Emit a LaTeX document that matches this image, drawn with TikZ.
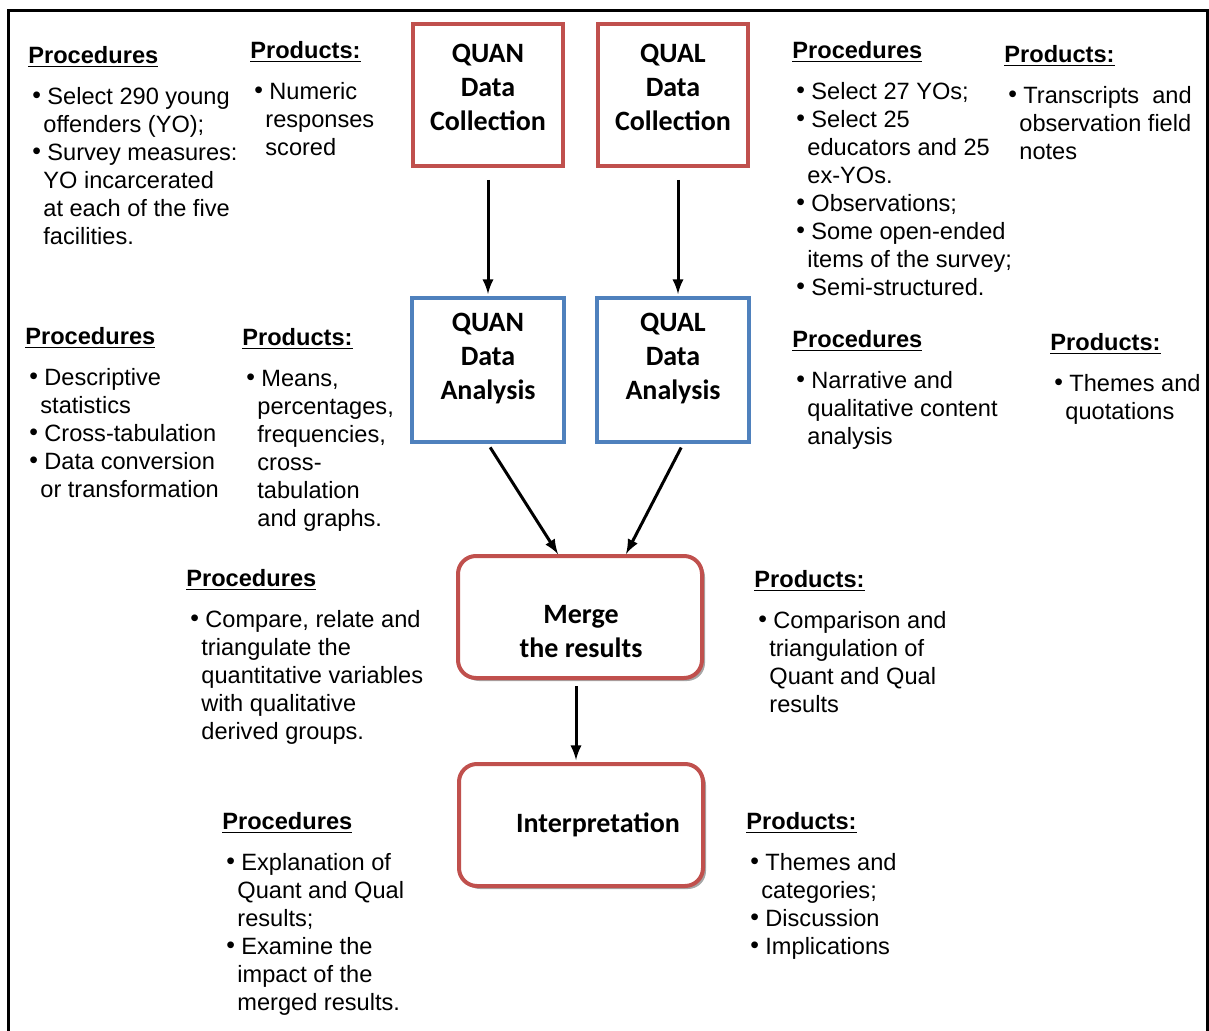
\documentclass[tikz,border=0pt]{standalone}
\usepackage{fontspec}
\setmainfont{Liberation Sans}
\newfontfamily\boxfont{Carlito}
\usetikzlibrary{calc,shadows}
\definecolor{boxred}{RGB}{192,80,77}
\definecolor{boxblue}{RGB}{79,129,189}
\tikzset{
  >=latex
}
\newcommand{\hd}[1]{\underline{\textbf{#1}}}
\newcommand{\itm}{\hspace{2pt}\makebox[7.5pt][l]{\raisebox{.3pt}{\scalebox{1.05}{\textbullet}}}}
\newcommand{\cnt}{\hspace{7.5pt}}
\begin{document}
\begin{tikzpicture}[x=0.5pt,y=-0.5pt,
  txt/.style={anchor=north west,inner sep=0pt,align=left,font=\fontsize{11.8}{14}\selectfont},
  boxtxt/.style={align=center,inner sep=0pt,font=\boxfont\bfseries\fontsize{14}{17}\selectfont},
  collbox/.style={draw=boxred,line width=2pt,minimum width=75pt,minimum height=71pt},
  anabox/.style={draw=boxblue,line width=2pt,minimum width=76pt,minimum height=72pt},
  mainbox/.style={draw=boxred,line width=2pt,fill=white,rounded corners=9pt,
    minimum width=122pt,minimum height=61pt,
    drop shadow={shadow xshift=1.5pt,shadow yshift=-1.5pt,fill=black!35,opacity=1}},
  arr/.style={->,line width=1.5pt}]
      \useasboundingbox (0,0) rectangle (1209,1031);
      \draw[line width=1.5pt] (8,1040) -- (8,11) -- (1207,11) -- (1207,1040);
      \node[collbox] (quanColl) at (488,95) {};
      \node[boxtxt] (quanCollTxt) at ($(quanColl)+(0,-8)$) {QUAN\\Data\\Collection};
      \node[collbox] (qualColl) at (673,95) {};
      \node[boxtxt] (qualCollTxt) at ($(qualColl)+(0,-8)$) {QUAL\\Data\\Collection};
      \node[anabox] (quanAna) at (488,370) {};
      \node[boxtxt] (quanAnaTxt) at ($(quanAna)+(0,-11)$) {QUAN\\Data\\Analysis};
      \node[anabox] (qualAna) at (673,370) {};
      \node[boxtxt] (qualAnaTxt) at ($(qualAna)+(0,-11)$) {QUAL\\Data\\Analysis};
      \node[mainbox] (merge) at (580,617) {};
      \node[boxtxt] (mergeTxt) at ($(merge)+(1,15)$) {Merge\\the results};
      \node[mainbox] (interp) at (581,825) {};
      \node[boxtxt] (interpTxt) at ($(interp)+(17,0)$) {Interpretation};
      \draw[arr,shorten <=6pt,shorten >=1pt] (quanColl.south) -- (quanAna.north);
      \draw[arr,shorten <=6pt,shorten >=1pt] ($(qualColl.south)+(5,0)$) -- ($(qualAna.north)+(5,0)$);
      \draw[arr,shorten <=2pt] (quanAna.south) -- ($(merge.north)+(-22,0)$);
      \draw[arr,shorten <=2pt] ($(qualAna.south)+(10,0)$) -- ($(merge.north)+(46,0)$);
      \draw[arr,shorten <=3pt,shorten >=1pt] ($(merge.south)+(-4,0)$) -- ($(interp.north)+(-5,0)$);
      \node[txt] (procColl) at (28,46) {\hd{Procedures}\\[6.5pt]
        \itm Select 290 young\\ \cnt offenders (YO);\\ \itm Survey measures:\\
        \cnt YO incarcerated\\ \cnt at each of the five\\ \cnt facilities.};
      \node[txt] (prodColl) at (250,41) {\hd{Products:}\\[6.5pt]
        \itm Numeric\\ \cnt responses\\ \cnt scored};
      \node[txt] (procQualColl) at (792,41) {\hd{Procedures}\\[6.5pt]
        \itm Select 27 YOs;\\ \itm Select 25\\ \cnt educators and 25\\ \cnt ex-YOs.\\
        \itm Observations;\\ \itm Some open-ended\\ \cnt items of the survey;\\
        \itm Semi-structured.};
      \node[txt] (prodQualColl) at (1004,45) {\hd{Products:}\\[6.5pt]
        \itm Transcripts\ \ and\\ \cnt observation field\\ \cnt notes};
      \node[txt] (procAna) at (25,327) {\hd{Procedures}\\[6.5pt]
        \itm Descriptive\\ \cnt statistics\\ \itm Cross-tabulation\\
        \itm Data conversion\\ \cnt or transformation};
      \node[txt] (prodAna) at (242,328) {\hd{Products:}\\[6.5pt]
        \itm Means,\\ \cnt percentages,\\ \cnt frequencies,\\ \cnt cross-\\
        \cnt tabulation\\ \cnt and graphs.};
      \node[txt] (procQualAna) at (792,330) {\hd{Procedures}\\[6.5pt]
        \itm Narrative and\\ \cnt qualitative content\\ \cnt analysis};
      \node[txt] (prodQualAna) at (1050,333) {\hd{Products:}\\[6.5pt]
        \itm Themes and\\ \cnt quotations};
      \node[txt] (procMerge) at (186,569) {\hd{Procedures}\\[6.5pt]
        \itm Compare, relate and\\ \cnt triangulate the\\ \cnt quantitative variables\\
        \cnt with qualitative\\ \cnt derived groups.};
      \node[txt] (prodMerge) at (754,570) {\hd{Products:}\\[6.5pt]
        \itm Comparison and\\ \cnt triangulation of\\ \cnt Quant and Qual\\ \cnt results};
      \node[txt] (procInterp) at (222,812) {\hd{Procedures}\\[6.5pt]
        \itm Explanation of\\ \cnt Quant and Qual\\ \cnt results;\\ \itm Examine the\\
        \cnt impact of the\\ \cnt merged results.};
      \node[txt] (prodInterp) at (746,812) {\hd{Products:}\\[6.5pt]
        \itm Themes and\\ \cnt categories;\\ \itm Discussion\\ \itm Implications};
\end{tikzpicture}
\end{document}
